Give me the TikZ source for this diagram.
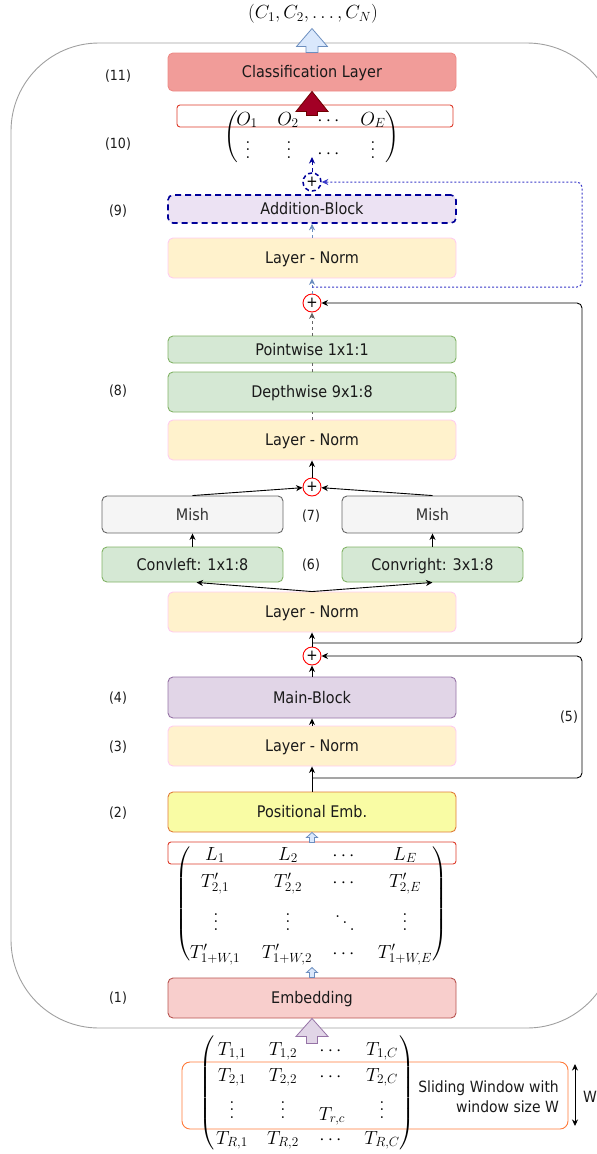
\RequirePackage{fix-cm}
\documentclass[tikz,border=0pt]{standalone}
\usepackage{amsmath}
\usepackage[no-math]{fontspec}
\setmainfont{DejaVu Sans}[FakeStretch=0.9]
\usetikzlibrary{arrows.meta,calc}
\definecolor{txt}{HTML}{1A1A1A}
\definecolor{clsF}{HTML}{F19C99}
\definecolor{clsD}{HTML}{EE8A86}
\definecolor{redR}{HTML}{DD3B2A}
\definecolor{lnF}{HTML}{FFF2CC}
\definecolor{lnD}{HTML}{FFCCEE}
\definecolor{abF}{HTML}{ECE2F3}
\definecolor{dblue}{HTML}{000099}
\definecolor{lblue}{HTML}{6C8EBF}
\definecolor{lblueF}{HTML}{DAE8FC}
\definecolor{dotblue}{HTML}{3838C8}
\definecolor{grF}{HTML}{D5E8D4}
\definecolor{grD}{HTML}{82B366}
\definecolor{mishF}{HTML}{F5F5F5}
\definecolor{mishD}{HTML}{666666}
\definecolor{mishT}{HTML}{333333}
\definecolor{puF}{HTML}{E1D5E7}
\definecolor{puD}{HTML}{9673A6}
\definecolor{posF}{HTML}{F9FCA4}
\definecolor{posD}{HTML}{E07B39}
\definecolor{embF}{HTML}{F8CECC}
\definecolor{embD}{HTML}{B85450}
\definecolor{darkred}{HTML}{A20025}
\definecolor{darkredD}{HTML}{6F0000}
\definecolor{orng}{HTML}{FF7A3A}
\definecolor{cont}{HTML}{A0A0A0}
\makeatletter
\newcommand\myvd{\vbox{\baselineskip7.4pt\lineskiplimit\z@\hbox{$\m@th.$}\hbox{$\m@th.$}\hbox{$\m@th.$}}}
\newcommand\mydd{\mathinner{\raise13pt\hbox{$\m@th.$}\mkern2mu\raise6.5pt\hbox{$\m@th.$}\mkern2mu\hbox{$\m@th.$}}}
\makeatother
\newcommand\lpar[1]{$\left(\vcenter{\hbox{\rule{0pt}{#1}}}\right.$}
\newcommand\rpar[1]{$\left.\vcenter{\hbox{\rule{0pt}{#1}}}\right)$}
\newcommand\barrow[6]{\filldraw[#1] (#2) -- ++(#4,#6) -- ++({-(#4)+(#5)},0) -- ++(0,{(#3)-(#6)}) -- ++({-2*(#5)},0) -- ++(0,{(#6)-(#3)}) -- ++({-(#4)+(#5)},0) -- cycle;}
\begin{document}
\begin{tikzpicture}[x=1pt,y=-1pt,
  >={Stealth[length=6.5pt,width=6pt,inset=2pt]},
  box/.style={rounded corners=5pt, line width=0.9pt, minimum width=288pt, inner sep=0pt, text=txt, text height=11.7pt, text depth=0pt, font=\fontsize{16}{19}\selectfont},
  sbox/.style={box, minimum width=181pt},
  mth/.style={inner sep=0pt, anchor=base, font=\fontsize{19}{23}\selectfont},
  par/.style={inner sep=0pt, font=\fontsize{19}{23}\selectfont},
  lab/.style={inner sep=0pt, font=\fontsize{14}{17}\selectfont, text=txt},
  plus/.style={circle, draw=red, line width=0.9pt, minimum size=18pt, inner sep=0pt, font=\fontsize{15}{15}\selectfont},
  conn/.style={->, line width=0.9pt},
  gconn/.style={line width=0.9pt, draw=mishD, dash pattern=on 3pt off 3pt},
  bconn/.style={->, line width=0.9pt, draw=lblue, dash pattern=on 3pt off 3pt},
  bluebig/.style={fill=lblueF, draw=lblue, line width=0.8pt},
  redbig/.style={fill=darkred, draw=darkredD, line width=0.8pt},
  purbig/.style={fill=puF, draw=puD, line width=0.8pt}]
\useasboundingbox (0,0) rectangle (597,1154);
% container
\draw[cont, line width=0.9pt, rounded corners=88pt] (11,43) rectangle (615,1028);

% output text
\node[par] (cout) at (313,14) {$(C_1, C_2, \ldots, C_N)$};

% main boxes
\node[box, fill=clsF, draw=clsD, minimum height=38pt] (cls) at (312,72) {Classification Layer};
\node[draw=redR, fill=white, rounded corners=3pt, line width=0.9pt, minimum width=276pt, minimum height=22pt, inner sep=0pt] (orow) at (315,116) {};
\node[box, fill=abF, draw=dblue, line width=1.6pt, dash pattern=on 6pt off 4pt, minimum height=28pt] (addb) at (312,209) {Addition-Block};
\node[box, fill=lnF, draw=lnD, minimum height=40pt] (ln4) at (312,258) {Layer - Norm};
\node[box, fill=grF, draw=grD, minimum height=27pt] (pw) at (312,349.5) {Pointwise 1x1:1};
\node[box, fill=grF, draw=grD, minimum height=40pt] (dw) at (312,392) {Depthwise 9x1:8};
\node[box, fill=lnF, draw=lnD, minimum height=40pt] (ln3) at (312,440) {Layer - Norm};
\node[sbox, fill=mishF, draw=mishD, text=mishT, minimum height=37pt] (mishL) at (192.5,514.5) {Mish};
\node[sbox, fill=mishF, draw=mishD, text=mishT, minimum height=37pt] (mishR) at (432.5,514.5) {Mish};
\node[sbox, fill=grF, draw=grD, minimum height=35pt] (convL) at (192.5,564.5) {Convleft: 1x1:8};
\node[sbox, fill=grF, draw=grD, minimum height=35pt] (convR) at (432.5,564.5) {Convright: 3x1:8};
\node[box, fill=lnF, draw=lnD, minimum height=40pt] (ln2) at (312,612) {Layer - Norm};
\node[box, fill=puF, draw=puD, minimum height=41pt] (main) at (312,697.5) {Main-Block};
\node[box, fill=lnF, draw=lnD, minimum height=40pt] (ln1) at (312,746) {Layer - Norm};
\node[box, fill=posF, draw=posD, minimum height=40pt] (pos) at (312,812) {Positional Emb.};
\node[draw=redR, rounded corners=3pt, line width=0.9pt, minimum width=288pt, minimum height=22pt, inner sep=0pt] (lrow) at (312,853) {};
\node[box, fill=embF, draw=embD, minimum height=40pt] (emb) at (312,998) {Embedding};
\node[draw=orng, rounded corners=8pt, line width=0.9pt, minimum width=386pt, minimum height=67pt, inner sep=0pt] (win) at (375,1095.5) {};

% plus circles
\node[plus, draw=dblue, line width=1.5pt, dash pattern=on 4pt off 3pt] (p4) at (312,182) {+};
\node[plus] (p3) at (312,303) {+};
\node[plus] (p2) at (312,487) {+};
\node[plus] (p1) at (312,656) {+};

% labels
\node[lab] (lab11) at (118,76) {(11)};
\node[lab] (lab10) at (118,144) {(10)};
\node[lab] (lab9) at (118,211) {(9)};
\node[lab] (lab8) at (118,391) {(8)};
\node[lab] (lab7) at (311,516) {(7)};
\node[lab] (lab6) at (311,565) {(6)};
\node[lab] (lab4) at (118,698) {(4)};
\node[lab] (lab3) at (118,747) {(3)};
\node[lab] (lab5) at (569,717) {(5)};
\node[lab] (lab2) at (118,813) {(2)};
\node[lab] (lab1) at (118,998) {(1)};

% O matrix
\node[par] (opl) at (232,137) {\lpar{53pt}};
\node[par] (opr) at (392,137) {\rpar{53pt}};
\node[mth] (om11) at (247,125) {$O_1$};
\node[mth] (om12) at (288,125) {$O_2$};
\node[mth] (om13) at (330,125) {$\cdots$};
\node[mth] (om14) at (373,125) {$O_E$};
\node[mth] (om21) at (248,158) {\myvd};
\node[mth] (om22) at (289,158) {\myvd};
\node[mth] (om23) at (330,158) {$\cdots$};
\node[mth] (om24) at (373,158) {\myvd};

% L matrix
\node[par] (lpl) at (184,904) {\lpar{118pt}};
\node[par] (lpr) at (439,904) {\rpar{118pt}};
\node[mth] (lm11) at (215,860) {$L_1$};
\node[mth] (lm12) at (288,860) {$L_2$};
\node[mth] (lm13) at (345,860) {$\cdots$};
\node[mth] (lm14) at (405,860) {$L_E$};
\node[mth] (lm21) at (215,887) {$T'_{2,1}$};
\node[mth] (lm22) at (288,887) {$T'_{2,2}$};
\node[mth] (lm23) at (345,887) {$\cdots$};
\node[mth] (lm24) at (405,887) {$T'_{2,E}$};
\node[mth] (lm31) at (216,930) {\myvd};
\node[mth] (lm32) at (288,930) {\myvd};
\node[mth] (lm33) at (345,930) {$\mydd$};
\node[mth] (lm34) at (405,930) {\myvd};
\node[mth] (lm41) at (215,958) {$T'_{1+W,1}$};
\node[mth] (lm42) at (287,958) {$T'_{1+W,2}$};
\node[mth] (lm43) at (345,958) {$\cdots$};
\node[mth] (lm44) at (405,958) {$T'_{1+W,E}$};

% bottom matrix
\node[par] (bpl) at (208,1093) {\lpar{110pt}};
\node[par] (bpr) at (406,1093) {\rpar{110pt}};
\node[mth] (bm11) at (232,1055) {$T_{1,1}$};
\node[mth] (bm12) at (283,1055) {$T_{1,2}$};
\node[mth] (bm13) at (332,1055) {$\cdots$};
\node[mth] (bm14) at (382,1055) {$T_{1,C}$};
\node[mth] (bm21) at (232,1081) {$T_{2,1}$};
\node[mth] (bm22) at (283,1081) {$T_{2,2}$};
\node[mth] (bm23) at (332,1081) {$\cdots$};
\node[mth] (bm24) at (382,1081) {$T_{2,C}$};
\node[mth] (bm31) at (232,1118) {\myvd};
\node[mth] (bm32) at (283,1118) {\myvd};
\node[mth] (bm33) at (332,1120) {$T_{r,c}$};
\node[mth] (bm34) at (382,1118) {\myvd};
\node[mth] (bm41) at (232,1144) {$T_{R,1}$};
\node[mth] (bm42) at (283,1144) {$T_{R,2}$};
\node[mth] (bm43) at (332,1144) {$\cdots$};
\node[mth] (bm44) at (382,1144) {$T_{R,C}$};

% sliding window text
\node[inner sep=0pt, anchor=east, align=right, text=txt, font=\fontsize{15.5}{20}\selectfont] (slid) at (559,1097) {Sliding Window with\\window size W};
\coordinate (wtop) at (575,1064);
\coordinate (wbot) at (575,1126);
\draw[<->, line width=0.9pt] (wtop) -- (wbot);
\node[lab, font=\fontsize{15.5}{18}\selectfont] (wlab) at (590,1097) {W};

% skip coordinates
\coordinate (rx) at (582,0);
\coordinate (b4) at (312,287);
\coordinate (b2) at (312,643);
\coordinate (b1) at (312,778);
\coordinate (otip) at (312,157);

% connectors
\draw[bconn] (ln4.north) -- (addb.south);
\draw[bconn] (p3.north) -- (ln4.south);
\draw[->, line width=1pt, draw=dblue, dash pattern=on 4pt off 3pt] (p4.north) -- (otip);
\draw[->, line width=1pt, draw=dotblue, dash pattern=on 2pt off 2pt, rounded corners=5pt] (b4) -- (b4 -| rx) |- (p4.east);
\draw[gconn, ->] (pw.north) -- (p3.south);
\draw[gconn] (dw.north) -- (pw.south);
\draw[gconn] (ln3.north) -- (dw.south);
\draw[conn] (p2.north) -- (ln3.south);
\draw[conn] (mishL.north) -- (p2);
\draw[conn] (mishR.north) -- (p2);
\draw[conn] (convL.north) -- (mishL.south);
\draw[conn] (convR.north) -- (mishR.south);
\draw[conn] (ln2.north) -- ($(convL.south)+(4,0)$);
\draw[conn] (ln2.north) -- (convR.south);
\draw[conn] (p1.north) -- (ln2.south);
\draw[conn, rounded corners=5pt] (b2) -- (b2 -| rx) |- (p3.east);
\draw[conn] (main.north) -- (p1.south);
\draw[conn] (ln1.north) -- (main.south);
\draw[conn] (pos.north) -- (ln1.south);
\draw[conn, rounded corners=5pt] (b1) -- (b1 -| rx) |- (p1.east);

% block arrows
\barrow{bluebig}{$(cls.north)+(0,-24)$}{24}{15.5}{6}{18}
\barrow{redbig}{cls.south}{24}{16}{5.5}{20}
\barrow{bluebig}{pos.south}{10}{5.5}{2.5}{5}
\barrow{bluebig}{$(emb.north)+(0,-10)$}{10}{5.5}{2.5}{5}
\barrow{purbig}{emb.south}{25}{16}{5.5}{18}
\end{tikzpicture}
\end{document}
